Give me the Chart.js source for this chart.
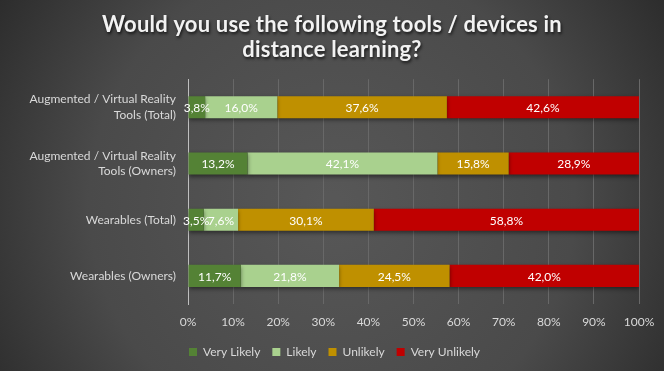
<!DOCTYPE html>
<html><head><meta charset="utf-8">
<script src="https://cdn.jsdelivr.net/npm/chart.js@4"></script>
<style>html,body{margin:0;padding:0;background:#3a3a3a}#wrap{width:664px;height:371px}</style>
</head><body><div id="wrap"><canvas id="c" width="664" height="371"></canvas></div>
<script>
const categories = [["Augmented / Virtual Reality", "Tools (Total)"], ["Augmented / Virtual Reality", "Tools (Owners)"], "Wearables (Total)", "Wearables (Owners)"];
const seriesNames = ["Very Likely", "Likely", "Unlikely", "Very Unlikely"];
const veryLikely = [3.8, 13.2, 3.5, 11.7];
const likely = [16.0, 42.1, 7.6, 21.8];
const unlikely = [37.6, 15.8, 30.1, 24.5];
const veryUnlikely = [42.6, 28.9, 58.8, 42.0];
const titleLines = ["Would you use the following tools / devices in", "distance learning?"];
const colors = ["#548235", "#a9d18e", "#bf9000", "#c00000"];

const FONT = "Lato, 'Open Sans', sans-serif";

const bgPlugin = {
  id: 'bg',
  beforeDraw(chart) {
    const ctx = chart.ctx, w = chart.width, h = chart.height;
    ctx.save();
    ctx.fillStyle = '#2c2c2c';
    ctx.fillRect(0, 0, w, h);
    const g = ctx.createRadialGradient(w * 0.5, h * 0.55, 10, w * 0.5, h * 0.55, w * 0.6);
    g.addColorStop(0, '#575757');
    g.addColorStop(0.6, '#4a4a4a');
    g.addColorStop(1, '#2b2b2b');
    ctx.fillStyle = g;
    ctx.fillRect(0, 0, w, h);
    ctx.restore();
  }
};

const centerBoxesPlugin = {
  id: 'centerBoxes',
  afterLayout(chart) {
    if (chart.titleBlock) { chart.titleBlock.left = 0; chart.titleBlock.right = chart.width; }
    if (chart.legend) { chart.legend.left += 15; chart.legend.right += 15; }
  }
};

const titleShadowPlugin = {
  id: 'titleShadow',
  afterInit(chart) {
    const tb = chart.titleBlock;
    if (!tb) return;
    const orig = tb.draw.bind(tb);
    tb.draw = function () {
      const ctx = chart.ctx;
      ctx.save();
      ctx.shadowColor = 'rgba(0,0,0,0.7)';
      ctx.shadowBlur = 3;
      ctx.shadowOffsetX = 1;
      ctx.shadowOffsetY = 2;
      ctx.letterSpacing = '0.2px';
      orig();
      ctx.restore();
    };
  }
};

const shadowPlugin = {
  id: 'barShadow',
  beforeDatasetsDraw(chart) {
    const ctx = chart.ctx;
    ctx.save();
    ctx.shadowColor = 'rgba(0,0,0,0.45)';
    ctx.shadowBlur = 4;
    ctx.shadowOffsetY = 2;
  },
  afterDatasetsDraw(chart) {
    chart.ctx.restore();
  }
};

const labelPlugin = {
  id: 'segLabels',
  afterDatasetsDraw(chart) {
    const ctx = chart.ctx;
    ctx.save();
    ctx.font = '12px ' + FONT;
    ctx.fillStyle = '#ffffff';
    ctx.textAlign = 'center';
    ctx.textBaseline = 'middle';
    chart.data.datasets.forEach((ds, i) => {
      const meta = chart.getDatasetMeta(i);
      meta.data.forEach((el, j) => {
        const v = ds.data[j];
        const cx = (el.x + el.base) / 2;
        ctx.fillText(v.toFixed(1).replace('.', ',') + '%', cx, el.y + 1);
      });
    });
    ctx.restore();
  }
};

const datasets = [veryLikely, likely, unlikely, veryUnlikely].map((d, i) => ({
  label: seriesNames[i],
  data: d,
  backgroundColor: colors[i],
  borderWidth: 0,
  categoryPercentage: 1,
  barPercentage: 0.393
}));

new Chart(document.getElementById('c'), {
  type: 'bar',
  data: { labels: categories, datasets },
  plugins: [bgPlugin, centerBoxesPlugin, titleShadowPlugin, shadowPlugin, labelPlugin],
  options: {
    indexAxis: 'y',
    responsive: false,
    animation: false,
    devicePixelRatio: 1,
    layout: { padding: { left: 0, right: 25, top: 0, bottom: 3 } },
    plugins: {
      title: {
        display: true,
        text: titleLines,
        color: '#f2f2f2',
        font: { family: FONT, size: 22, weight: 'bold', lineHeight: 1.14 },
        padding: { top: 12.5, bottom: 16.5 }
      },
      legend: {
        position: 'bottom',
        labels: {
          color: '#d9d9d9',
          font: { family: FONT, size: 12 },
          boxWidth: 8, boxHeight: 8, padding: 12
        }
      },
      tooltip: { enabled: false }
    },
    scales: {
      x: {
        stacked: true, min: 0, max: 100,
        grid: { color: '#686868', drawTicks: false },
        border: { display: false },
        ticks: { stepSize: 10, color: '#d9d9d9', font: { family: FONT, size: 12 }, padding: 11, callback: v => v + '%' },
        afterFit(s) { s.height = 30; s.paddingLeft = 0; s.paddingRight = 0; }
      },
      y: {
        stacked: true,
        grid: { display: false, drawTicks: false },
        border: { display: true, color: '#bfbfbf', width: 1 },
        ticks: { color: '#d9d9d9', font: { family: FONT, size: 12, lineHeight: 1.3 }, padding: 12 },
        afterFit(s) { s.width = 188; s.paddingTop = 0; s.paddingBottom = 0; }
      }
    }
  }
});
</script>
</body></html>
